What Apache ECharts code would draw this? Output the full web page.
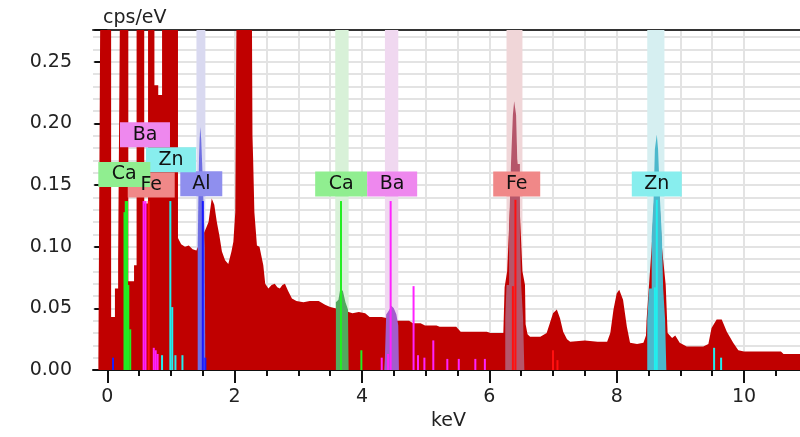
<!DOCTYPE html>
<html>
<head>
<meta charset="utf-8">
<title>Spectre EDS</title>
<script src="https://cdn.jsdelivr.net/npm/echarts@6/dist/echarts.min.js"></script>
<style>
  html, body { margin: 0; padding: 0; background: #fff; }
  #spectre { width: 800px; height: 437px; }
</style>
</head>
<body>
<div id="spectre"></div>
<script>
// spectre mesuré [keV, cps/eV] ; 0.30 = pic qui sort du cadre
const spectrum = [
    [-0.14, 0], [-0.14, 0.007], [-0.11, 0.007], [-0.11, 0.30], [0.06, 0.30], [0.06, 0.043], [0.12, 0.043],
    [0.12, 0.066], [0.17, 0.066], [0.17, 0.09], [0.20, 0.09], [0.20, 0.30], [0.33, 0.30], [0.33, 0.072],
    [0.42, 0.072], [0.42, 0.085], [0.46, 0.085], [0.46, 0.30], [0.58, 0.30], [0.58, 0.135], [0.64, 0.135],
    [0.64, 0.30], [0.74, 0.30], [0.74, 0.231], [0.80, 0.231], [0.80, 0.223], [0.86, 0.223], [0.86, 0.30],
    [1.11, 0.30], [1.11, 0.107], [1.16, 0.102], [1.22, 0.100], [1.28, 0.101], [1.34, 0.098], [1.40, 0.097],
    [1.43, 0.097], [1.55, 0.115], [1.59, 0.120], [1.64, 0.139], [1.68, 0.134], [1.72, 0.120], [1.76, 0.109],
    [1.80, 0.096], [1.85, 0.089], [1.90, 0.086], [1.95, 0.096], [1.98, 0.104], [2.01, 0.128], [2.03, 0.30],
    [2.27, 0.30], [2.28, 0.19], [2.29, 0.172], [2.31, 0.128], [2.35, 0.101], [2.39, 0.100], [2.41, 0.101],
    [2.45, 0.085], [2.48, 0.070], [2.53, 0.066], [2.58, 0.069], [2.63, 0.070], [2.67, 0.067], [2.71, 0.066],
    [2.75, 0.069], [2.79, 0.070], [2.84, 0.064], [2.90, 0.058], [2.97, 0.056], [3.08, 0.055], [3.18, 0.056],
    [3.32, 0.056], [3.42, 0.053], [3.50, 0.051], [3.58, 0.050], [3.70, 0.049], [3.79, 0.047], [3.85, 0.046],
    [3.95, 0.047], [4.05, 0.046], [4.12, 0.043], [4.31, 0.043], [4.40, 0.042], [4.52, 0.040], [4.74, 0.040],
    [4.80, 0.038], [4.92, 0.038], [4.99, 0.036], [5.17, 0.036], [5.22, 0.035], [5.48, 0.035], [5.55, 0.031],
    [5.96, 0.031], [6.02, 0.030], [6.22, 0.030], [6.24, 0.067], [6.28, 0.08], [6.34, 0.15], [6.40, 0.20],
    [6.46, 0.15], [6.52, 0.08], [6.56, 0.069], [6.57, 0.037], [6.60, 0.029], [6.64, 0.027], [6.80, 0.027],
    [6.90, 0.030], [6.95, 0.038], [7.00, 0.046], [7.06, 0.049], [7.11, 0.042], [7.16, 0.031], [7.22, 0.025],
    [7.27, 0.023], [7.50, 0.024], [7.70, 0.023], [7.85, 0.023], [7.90, 0.030], [7.95, 0.049], [8.00, 0.062],
    [8.04, 0.065], [8.10, 0.057], [8.16, 0.035], [8.21, 0.022], [8.32, 0.021], [8.42, 0.022], [8.46, 0.028],
    [8.47, 0.041], [8.55, 0.10], [8.63, 0.18], [8.71, 0.10], [8.77, 0.069], [8.79, 0.069], [8.80, 0.030],
    [8.87, 0.026], [8.92, 0.028], [8.99, 0.022], [9.10, 0.019], [9.36, 0.019], [9.44, 0.021], [9.49, 0.034],
    [9.57, 0.041], [9.65, 0.041], [9.73, 0.031], [9.83, 0.022], [9.91, 0.016], [10.0, 0.015], [10.58, 0.015],
    [10.62, 0.013], [10.95, 0.013]
];

// pics déconvolués par élément (paliers)
const alPeak = [[1.42, 0], [1.42, 0.10], [1.43, 0.10], [1.43, 0.137], [1.44, 0.137], [1.44, 0.171], [1.45, 0.171],
    [1.45, 0.187], [1.46, 0.187], [1.46, 0.197], [1.475, 0.197], [1.475, 0.187], [1.49, 0.187], [1.49, 0.167],
    [1.51, 0.167], [1.51, 0.137], [1.53, 0.137], [1.53, 0.10], [1.54, 0.10], [1.54, 0]];
const caPeak = [[3.59, 0], [3.59, 0.055], [3.63, 0.057], [3.66, 0.066], [3.70, 0.064], [3.74, 0.055], [3.78, 0.049], [3.79, 0]];
const baPeak = [[4.35, 0], [4.36, 0.010], [4.38, 0.045], [4.42, 0.048], [4.46, 0.052], [4.50, 0.050], [4.54, 0.045], [4.57, 0.036], [4.58, 0]];
const fePeak = [[6.25, 0], [6.25, 0.042], [6.27, 0.042], [6.27, 0.069], [6.31, 0.069], [6.31, 0.112], [6.34, 0.112],
    [6.34, 0.167], [6.37, 0.167], [6.37, 0.207], [6.39, 0.207], [6.39, 0.218], [6.42, 0.218], [6.42, 0.207],
    [6.44, 0.207], [6.44, 0.167], [6.48, 0.167], [6.48, 0.112], [6.50, 0.112], [6.50, 0.069], [6.53, 0.069],
    [6.53, 0.042], [6.55, 0.042], [6.55, 0]];
const znPeak = [[8.48, 0], [8.48, 0.041], [8.51, 0.041], [8.51, 0.066], [8.55, 0.066], [8.55, 0.108], [8.58, 0.108],
    [8.58, 0.138], [8.60, 0.138], [8.60, 0.179], [8.63, 0.179], [8.63, 0.191], [8.65, 0.191], [8.65, 0.179],
    [8.68, 0.179], [8.68, 0.138], [8.71, 0.138], [8.71, 0.108], [8.73, 0.108], [8.73, 0.066], [8.76, 0.066],
    [8.76, 0.041], [8.78, 0.041], [8.78, 0]];

// raies [keV, hauteur]
const alLines = [[0.09, 0.010], [1.50, 0.137], [1.54, 0.010]];
const caLines = [[0.27, 0.128], [0.29, 0.137], [0.31, 0.137], [0.33, 0.069], [0.36, 0.033], [3.67, 0.137], [3.99, 0.016]];
const baLines = [[0.57, 0.137], [0.60, 0.137], [0.73, 0.018], [0.76, 0.016], [0.79, 0.013], [4.31, 0.010], [4.41, 0.013],
    [4.45, 0.137], [4.81, 0.068], [4.88, 0.012], [4.98, 0.010], [5.12, 0.024], [5.34, 0.009], [5.52, 0.009], [5.78, 0.009], [5.93, 0.009]];
const feLines = [[0.65, 0.137], [6.37, 0.068], [6.41, 0.138], [7.00, 0.016], [7.07, 0.008]];
const znLines = [[0.86, 0.012], [0.99, 0.137], [1.02, 0.051], [1.07, 0.012], [1.18, 0.012], [8.60, 0.067], [8.63, 0.138], [9.53, 0.018], [9.64, 0.010]];

// bandes de repérage des éléments
const bandElements = ['Al', 'Ca', 'Ba', 'Fe', 'Zn'];
const bandFrom = [1.40, 3.58, 4.36, 6.27, 8.48];
const bandTo = [1.54, 3.79, 4.57, 6.52, 8.75];

// étiquettes
const labelNames = ['Fe', 'Al', 'Zn', 'Ba', 'Ca', 'Ca', 'Ba', 'Fe', 'Zn'];
const labelKeV = [0.69, 1.476, 1.00, 0.592, 0.267, 3.673, 4.474, 6.43, 8.63];
const labelCps = [0.150, 0.151, 0.1705, 0.1907, 0.1585, 0.1508, 0.1508, 0.1508, 0.1508];

const xMajorTicks = [0, 2, 4, 6, 8, 10];
const xMinorTicks = [0, 0.5, 1, 1.5, 2, 2.5, 3, 3.5, 4, 4.5, 5, 5.5, 6, 6.5, 7, 7.5, 8, 8.5, 9, 9.5, 10, 10.5];

const bandColors = { Al: '#d9d9f0', Ca: '#d8f1d8', Ba: '#f0d8f0', Fe: '#f0d6d8', Zn: '#d6eff1' };
const peakColors = { Al: '#6e6ee2', Ca: '#52aa5e', Ba: '#a45ccc', Fe: '#b5566a', Zn: '#4db8cc' };
const lineColors = { Al: '#1a1aff', Ca: '#22ee22', Ba: '#ff22ff', Fe: '#ff1010', Zn: '#22eeee' };
const boxColors = { Al: '#8f8fee', Ca: '#90ee90', Ba: '#ee88ee', Fe: '#f08888', Zn: '#88eeee' };
const boxWidths = { Al: 42, Ca: 52, Ba: 50, Fe: 47, Zn: 50 };

const font = 'DejaVu Sans';
const axisColor = '#111';
const gridColor = '#e3e3e3';
const xMin = -0.2246, xMax = 10.942;

window.onload = init;

let spectre;

function peakSeries(data, el) {
    return {
        type: 'line', data: data, symbol: 'none', z: 3,
        lineStyle: { width: 0 },
        areaStyle: { color: peakColors[el], opacity: 1 }
    };
}

function lineSeries(data, el) {
    return {
        type: 'bar', data: data, barWidth: 2, barGap: '-100%', z: 4,
        itemStyle: { color: lineColors[el] }
    };
}

function init() {
    spectre = echarts.init(document.getElementById('spectre'));

    let bands = bandElements.map((el, i) => [
        { xAxis: bandFrom[i], itemStyle: { color: bandColors[el] } },
        { xAxis: bandTo[i] }
    ]);

    let labels = labelNames.map((n, i) => ({
        name: n,
        value: [labelKeV[i], labelCps[i]],
        symbolSize: [boxWidths[n], 25],
        itemStyle: { color: boxColors[n], opacity: 1 }
    }));

    let options = {
        animation: false,
        title: {
            text: 'cps/eV', left: 98, top: 4,
            textStyle: { fontSize: 19, fontFamily: font, color: '#222', fontWeight: 'normal' }
        },
        grid: { left: 93, top: 30, right: -4, bottom: 67, outerBoundsMode: 'none', containLabel: false },
        xAxis: [
            {
                type: 'value', min: xMin, max: xMax, position: 'bottom',
                axisLine: { onZero: false, lineStyle: { color: axisColor, width: 2 } },
                axisTick: { customValues: xMajorTicks, length: 13, lineStyle: { color: axisColor, width: 2 } },
                axisLabel: { customValues: xMajorTicks, margin: 18, fontSize: 19, fontFamily: font, color: '#222' },
                splitLine: { show: false },
                name: 'keV', nameLocation: 'middle', nameGap: 42,
                nameTextStyle: { fontSize: 19, fontFamily: font, color: '#222' }
            },
            {
                type: 'value', min: xMin, max: xMax, position: 'bottom',
                axisLine: { show: false, onZero: false },
                axisTick: { customValues: xMinorTicks, length: 6, lineStyle: { color: axisColor, width: 2 } },
                axisLabel: { show: false },
                splitLine: { show: true, showMinLine: false, showMaxLine: false, lineStyle: { color: gridColor, width: 2 } }
            },
            {
                // bord supérieur du cadre
                type: 'value', min: xMin, max: xMax, position: 'top',
                axisLine: { show: true, onZero: false, lineStyle: { color: '#333', width: 2 } },
                axisTick: { show: false },
                axisLabel: { show: false },
                splitLine: { show: false }
            }
        ],
        yAxis: {
            type: 'value', min: 0, max: 0.2757, interval: 0.05,
            axisLine: { show: true, lineStyle: { color: axisColor, width: 2 } },
            axisTick: { show: true, length: 13, lineStyle: { color: axisColor, width: 2 } },
            minorTick: { show: true, splitNumber: 5, length: 6, lineStyle: { color: axisColor, width: 2 } },
            splitLine: { show: true, lineStyle: { color: gridColor, width: 2 } },
            minorSplitLine: { show: true, lineStyle: { color: gridColor, width: 2 } },
            axisLabel: {
                formatter: v => v.toFixed(2), margin: 21, showMaxLabel: false,
                fontSize: 19, fontFamily: font, color: '#222'
            }
        },
        series: [
            {
                type: 'line', data: [], z: 1,
                markArea: { silent: true, data: bands }
            },
            {
                type: 'line', data: spectrum, symbol: 'none', z: 2,
                lineStyle: { width: 0 },
                areaStyle: { color: '#c00000', opacity: 1 }
            },
            peakSeries(alPeak, 'Al'),
            peakSeries(caPeak, 'Ca'),
            peakSeries(baPeak, 'Ba'),
            peakSeries(fePeak, 'Fe'),
            peakSeries(znPeak, 'Zn'),
            lineSeries(alLines, 'Al'),
            lineSeries(caLines, 'Ca'),
            lineSeries(baLines, 'Ba'),
            lineSeries(feLines, 'Fe'),
            lineSeries(znLines, 'Zn'),
            {
                type: 'scatter', data: labels, symbol: 'rect', z: 5, silent: true,
                label: {
                    show: true, position: 'inside', formatter: '{b}',
                    fontSize: 19, fontFamily: font, color: '#111'
                }
            }
        ]
    };

    spectre.setOption(options);
}
</script>
</body>
</html>
